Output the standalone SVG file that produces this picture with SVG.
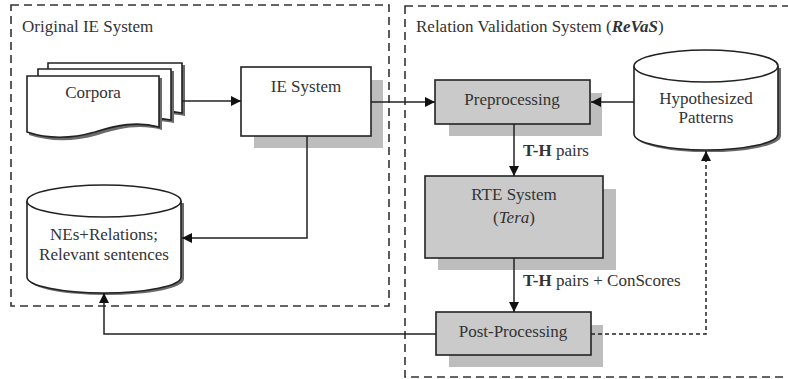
<svg xmlns="http://www.w3.org/2000/svg" width="788" height="379" viewBox="0 0 788 379" font-family="'Liberation Serif', 'Times New Roman', Times, serif">
  <defs>
    <marker id="arrow" viewBox="0 0 10 10" refX="10" refY="5" markerWidth="10" markerHeight="10" markerUnits="userSpaceOnUse" orient="auto">
      <path d="M0,0 L10,5 L0,10 Z" fill="#111"/>
    </marker>
  </defs>
  <style>
    text { font-family: 'Liberation Serif', 'Times New Roman', Times, serif; font-size: 17px; fill: #333; }
    .mid { text-anchor: middle; }
    .frame { fill: none; stroke: #333; stroke-width: 1.6; stroke-dasharray: 8 5; }
    .box { stroke: #222; stroke-width: 1.6; }
    .gray { fill: #cacaca; }
    .white { fill: #fff; }
    .shade { fill: #bdbdbd; }
    .dark { fill: #6a6a6a; }
    .wire { fill: none; stroke: #222; stroke-width: 1.5; }
    .dash { stroke-dasharray: 4 3; }
  </style>

  <rect width="788" height="379" fill="#fff"/>

  <!-- system frames -->
  <g id="frame-original">
    <rect class="frame" x="11" y="5" width="378" height="301"/>
    <text x="22" y="32">Original IE System</text>
  </g>
  <g id="frame-revas">
    <rect class="frame" x="405" y="6" width="400" height="371"/>
    <text x="416" y="32">Relation Validation System (<tspan font-weight="bold" font-style="italic">ReVaS</tspan>)</text>
  </g>

  <!-- stacked documents -->
  <g id="corpora">
    <path class="dark" d="M50,65 H185 V116 C165,112 150,116 130,121 C100,129 75,128 50,120 Z"/>
    <path class="white box" d="M48,63 H182 V113 C162,109 147,113 127,118 C97,126 72,125 48,117 Z"/>
    <path class="dark" d="M40,71 H174 V123 C154,119 139,123 119,128 C89,136 64,135 40,127 Z"/>
    <path class="white box" d="M38,69 H171 V120 C151,116 136,120 116,125 C86,133 61,132 38,124 Z"/>
    <path class="dark" d="M29,78 H162 V130 C140,124 120,128 98,135 C70,143 48,141 29,135 Z"/>
    <path class="white box" d="M27,76 H159 V127 C137,121 117,125 95,132 C67,140 45,138 27,132 Z"/>
    <text class="mid" x="93" y="98">Corpora</text>
  </g>

  <g id="ie-system">
    <rect class="shade" x="254" y="80" width="129" height="68"/>
    <rect class="white box" x="241" y="67" width="130" height="69"/>
    <text class="mid" x="306" y="92">IE System</text>
  </g>

  <g id="nes-relations">
    <path class="dark" d="M29,203 V279 A77,16 0 0 0 184,279 V203 Z"/>
    <path class="white box" d="M27,201 V277 A77,16 0 0 0 181,277 V201"/>
    <ellipse class="white box" cx="104" cy="201" rx="77" ry="16"/>
    <text class="mid" x="104" y="240">NEs+Relations;</text>
    <text class="mid" x="104" y="260">Relevant sentences</text>
  </g>

  <g id="preprocessing">
    <rect class="shade" x="449" y="93" width="153" height="43"/>
    <rect class="gray box" x="435" y="80" width="155" height="44"/>
    <text class="mid" x="512" y="105">Preprocessing</text>
  </g>

  <g id="hypothesized-patterns">
    <path class="dark" d="M636,68 V136 A72,16 0 0 0 781,136 V68 Z"/>
    <path class="white box" d="M634,66 V134 A72,16 0 0 0 778,134 V66"/>
    <ellipse class="white box" cx="706" cy="66" rx="72" ry="16"/>
    <text class="mid" x="706" y="104">Hypothesized</text>
    <text class="mid" x="706" y="123">Patterns</text>
  </g>

  <g id="rte-system">
    <rect class="shade" x="438" y="189" width="178" height="81"/>
    <rect class="gray box" x="425" y="176" width="178" height="82"/>
    <text class="mid" x="514" y="200">RTE System</text>
    <text class="mid" x="514" y="223">(<tspan font-style="italic">Tera</tspan>)</text>
  </g>

  <g id="post-processing">
    <rect class="shade" x="449" y="325" width="154" height="42"/>
    <rect class="gray box" x="436" y="312" width="155" height="43"/>
    <text class="mid" x="513" y="337">Post-Processing</text>
  </g>

  <!-- connectors -->
  <g id="connectors">
    <path class="wire" d="M182,101 H241" marker-end="url(#arrow)"/>
    <path class="wire" d="M371,102 H435" marker-end="url(#arrow)"/>
    <path class="wire" d="M634,102 H591" marker-end="url(#arrow)"/>
    <path class="wire" d="M514,124 V176" marker-end="url(#arrow)"/>
    <path class="wire" d="M514,258 V312" marker-end="url(#arrow)"/>
    <path class="wire" d="M307,136 V238 H182" marker-end="url(#arrow)"/>
    <path class="wire" d="M436,334 H104 V293" marker-end="url(#arrow)"/>
    <path class="wire dash" d="M591,334 H706 V151" marker-end="url(#arrow)"/>
    <text x="523" y="156"><tspan font-weight="bold">T-H</tspan> pairs</text>
    <text x="523" y="286"><tspan font-weight="bold">T-H</tspan> pairs + ConScores</text>
  </g>
</svg>
